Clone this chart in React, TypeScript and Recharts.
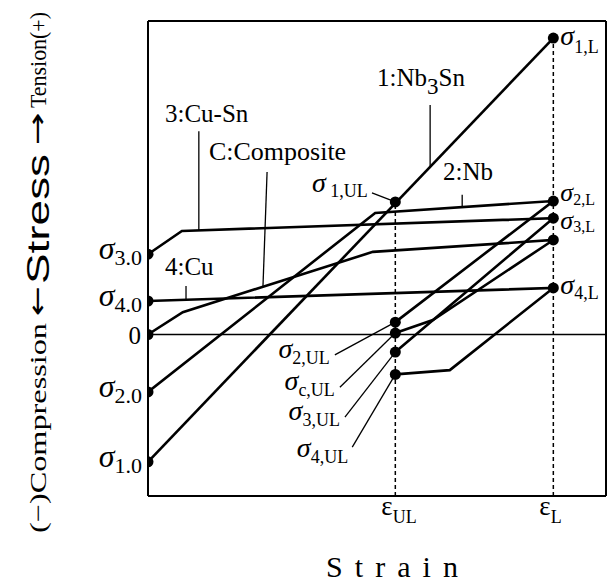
import React from "react";
import {
  ComposedChart,
  Line,
  Scatter,
  XAxis,
  YAxis,
  ReferenceLine,
  ReferenceDot,
} from "recharts";

type Pt = { x: number; y: number };

const FONT = '"Liberation Serif", "Times New Roman", serif';
const SANS = '"Liberation Sans", Arial, sans-serif';
const ARROW_FONT = '"DejaVu Sans", sans-serif';

// axes in arbitrary units (schematic)
const X_DOMAIN: [number, number] = [0, 100];
const Y_DOMAIN: [number, number] = [-34, 66];

const EPS_UL = 54;
const EPS_L = 88.5;

// loading then unloading path of each component
const nb3snPath: Pt[] = [
  { x: 0, y: -26.8 },
  { x: EPS_L, y: 62.4 },
];
const nbPath: Pt[] = [
  { x: 0, y: -12.1 },
  { x: 49.6, y: 25.6 },
  { x: EPS_L, y: 28.1 },
  { x: EPS_UL, y: 2.6 },
];
const compositePath: Pt[] = [
  { x: 0, y: 0 },
  { x: 7.6, y: 4.7 },
  { x: 49.1, y: 17.4 },
  { x: EPS_L, y: 19.9 },
  { x: 62.2, y: 3.05 },
  { x: EPS_UL, y: 0.3 },
];
const cuSnPath: Pt[] = [
  { x: 0, y: 16.9 },
  { x: 7.4, y: 21.8 },
  { x: EPS_L, y: 24.5 },
  { x: EPS_UL, y: -3.7 },
];
const cuPath: Pt[] = [
  { x: 0, y: 7.05 },
  { x: EPS_L, y: 9.8 },
  { x: 65.9, y: -7.5 },
  { x: EPS_UL, y: -8.4 },
];

// residual stresses at zero strain: σ1.0, σ2.0, 0, σ4.0, σ3.0
const yTickValues = [-26.8, -12.1, 0, 7.05, 16.9];
const yTickLabels = [
  ["σ", "1.0"],
  ["σ", "2.0"],
  ["0", ""],
  ["σ", "4.0"],
  ["σ", "3.0"],
];

const xTickValues = [EPS_UL, EPS_L];
const xTickLabels = [
  ["ε", "UL"],
  ["ε", "L"],
];

// stresses at εL and εUL (1, 2, C, 3, 4)
const loadedStress = [62.4, 28.1, 19.9, 24.5, 9.8];
const unloadedStress = [27.9, 2.6, 0.3, -3.7, -8.4];

const markers: Pt[] = [
  ...yTickValues.map((y) => ({ x: 0, y })),
  ...loadedStress.map((y) => ({ x: EPS_L, y })),
  ...unloadedStress.map((y) => ({ x: EPS_UL, y })),
];

const lineStyle = { stroke: "#000", strokeWidth: 2.6, dot: false as const };

function SigmaText(props: {
  x: number;
  y: number;
  base: string;
  sub?: string;
  anchor?: "start" | "end" | "middle";
  italic?: boolean;
  size?: number;
  subSize?: number;
  subDy?: number;
}) {
  const {
    x,
    y,
    base,
    sub,
    anchor = "start",
    italic = true,
    size = 28,
    subSize = 19,
    subDy = 7,
  } = props;
  return (
    <text x={x} y={y} textAnchor={anchor} fontFamily={FONT} fill="#000">
      <tspan fontFamily={FONT} fontSize={size} fontStyle={italic ? "italic" : "normal"}>
        {base}
      </tspan>
      {sub ? (
        <tspan fontFamily={FONT} fontSize={subSize} dy={subDy}>
          {sub}
        </tspan>
      ) : null}
    </text>
  );
}

// invisible reference dot used only to place text in data coordinates
function anchorAt(
  key: string,
  x: number,
  y: number,
  draw: (cx: number, cy: number) => React.ReactNode
) {
  return (
    <ReferenceDot
      key={key}
      x={x}
      y={y}
      r={0}
      fill="none"
      stroke="none"
      ifOverflow="visible"
      label={{
        content: (p: any) => {
          const vb = p.viewBox || {};
          const cx = (vb.x ?? 0) + (vb.width ?? 0) / 2;
          const cy = (vb.y ?? 0) + (vb.height ?? 0) / 2;
          return <g>{draw(cx, cy)}</g>;
        },
      }}
    />
  );
}

function leader(key: string, a: Pt, b: Pt) {
  return (
    <ReferenceLine
      key={key}
      segment={[a, b]}
      stroke="#000"
      strokeWidth={1.3}
      ifOverflow="visible"
    />
  );
}

const renderYTick = (p: any) => {
  const i = yTickValues.indexOf(p.payload.value);
  const [base, sub] = yTickLabels[i] ?? ["", ""];
  if (base === "0") {
    return (
      <text x={p.x - 7} y={p.y + 9} textAnchor="end" fontFamily={FONT} fontSize={25}>
        0
      </text>
    );
  }
  return (
    <SigmaText
      x={p.x - 6}
      y={p.y + 5}
      base={base}
      sub={sub}
      anchor="end"
      size={32}
      subSize={22}
      subDy={6}
    />
  );
};

const renderXTick = (p: any) => {
  const i = xTickValues.indexOf(p.payload.value);
  const [base, sub] = xTickLabels[i] ?? ["", ""];
  return (
    <SigmaText
      x={p.x - 14}
      y={p.y + 19}
      base={base}
      sub={sub}
      italic={false}
      size={27}
      subSize={18}
      subDy={8}
    />
  );
};

const yLabel = () => (
  <g fill="#000">
    <text transform="translate(46,533) rotate(-90)" fontFamily={FONT} fontSize={24} textLength={210} lengthAdjust="spacingAndGlyphs">
      (−)Compression
    </text>
    <text transform="translate(46,316) rotate(-90)" fontFamily={ARROW_FONT} fontSize={26} textLength={30} lengthAdjust="spacingAndGlyphs">
      ←
    </text>
    <text transform="translate(49,284) rotate(-90)" fontFamily={SANS} fontSize={32} textLength={130} lengthAdjust="spacingAndGlyphs">
      Stress
    </text>
    <text transform="translate(46,145) rotate(-90)" fontFamily={ARROW_FONT} fontSize={26} textLength={33} lengthAdjust="spacingAndGlyphs">
      →
    </text>
    <text transform="translate(46,108) rotate(-90)" fontFamily={FONT} fontSize={24} textLength={96} lengthAdjust="spacingAndGlyphs">
      Tension(+)
    </text>
  </g>
);

const xLabel = () => (
  <text x={392} y={577} textAnchor="middle" fontFamily={FONT} fontSize={30} textLength={132} lengthAdjust="spacing">
    Strain
  </text>
);

export default function App() {
  return (
    <div style={{ position: "absolute", left: 0, top: 0, width: 612, height: 582, background: "#fff" }}>
      <ComposedChart
        width={612}
        height={582}
        margin={{ top: 21, right: 6, bottom: 0, left: 0 }}
      >
        <XAxis
          type="number"
          dataKey="x"
          domain={X_DOMAIN}
          allowDataOverflow
          ticks={xTickValues}
          interval={0}
          tick={renderXTick}
          tickLine={false}
          tickSize={0}
          tickMargin={0}
          height={86}
          axisLine={{ stroke: "#000", strokeWidth: 2 }}
          label={{ content: xLabel }}
        />
        <YAxis
          type="number"
          dataKey="y"
          domain={Y_DOMAIN}
          allowDataOverflow
          ticks={yTickValues}
          interval={0}
          tick={renderYTick}
          tickLine={false}
          tickSize={0}
          tickMargin={0}
          width={148}
          axisLine={{ stroke: "#000", strokeWidth: 2 }}
          label={{ content: yLabel }}
        />

        {/* frame top / right and the zero-stress line */}
        <ReferenceLine y={Y_DOMAIN[1]} stroke="#000" strokeWidth={2} />
        <ReferenceLine x={X_DOMAIN[1]} stroke="#000" strokeWidth={2} />
        <ReferenceLine y={0} stroke="#000" strokeWidth={1.5} />

        {/* strain markers */}
        <ReferenceLine
          segment={[{ x: EPS_UL, y: Y_DOMAIN[0] }, { x: EPS_UL, y: unloadedStress[0] }]}
          stroke="#000"
          strokeWidth={1.5}
          strokeDasharray="4 3"
        />
        <ReferenceLine
          segment={[{ x: EPS_L, y: Y_DOMAIN[0] }, { x: EPS_L, y: loadedStress[0] }]}
          stroke="#000"
          strokeWidth={1.5}
          strokeDasharray="4 3"
        />

        <Line data={nb3snPath} dataKey="y" name="1:Nb3Sn" type="linear" {...lineStyle} isAnimationActive={false} />
        <Line data={nbPath} dataKey="y" name="2:Nb" type="linear" {...lineStyle} isAnimationActive={false} />
        <Line data={compositePath} dataKey="y" name="C:Composite" type="linear" {...lineStyle} isAnimationActive={false} />
        <Line data={cuSnPath} dataKey="y" name="3:Cu-Sn" type="linear" {...lineStyle} isAnimationActive={false} />
        <Line data={cuPath} dataKey="y" name="4:Cu" type="linear" {...lineStyle} isAnimationActive={false} />

        <Scatter
          data={markers}
          dataKey="y"
          isAnimationActive={false}
          shape={(p: any) => <circle cx={p.cx} cy={p.cy} r={5.5} fill="#000" />}
        />

        {/* component labels and leaders */}
        {leader("l-nb3sn", { x: 61.6, y: 48.3 }, { x: 61.6, y: 35.3 })}
        {leader("l-nb", { x: 68.6, y: 29.4 }, { x: 68.6, y: 26.8 })}
        {leader("l-cusn", { x: 11.1, y: 42.8 }, { x: 11.1, y: 21.9 })}
        {leader("l-comp", { x: 26.0, y: 34.2 }, { x: 25.1, y: 10.05 })}
        {leader("l-cu", { x: 8.3, y: 10.2 }, { x: 8.3, y: 7.3 })}

        {anchorAt("t-nb3sn", 50.0, 52.3, (cx, cy) => (
          <text x={cx} y={cy} fontFamily={FONT} fontSize={25}>
            1:Nb<tspan dy={8} fontSize={23}>3</tspan>
            <tspan dy={-8}>Sn</tspan>
          </text>
        ))}
        {anchorAt("t-nb", 64.4, 32.5, (cx, cy) => (
          <text x={cx} y={cy} fontFamily={FONT} fontSize={25}>2:Nb</text>
        ))}
        {anchorAt("t-cusn", 3.7, 44.7, (cx, cy) => (
          <text x={cx} y={cy} fontFamily={FONT} fontSize={25}>3:Cu-Sn</text>
        ))}
        {anchorAt("t-comp", 13.3, 36.7, (cx, cy) => (
          <text x={cx} y={cy} fontFamily={FONT} fontSize={26}>C:Composite</text>
        ))}
        {anchorAt("t-cu", 3.7, 12.5, (cx, cy) => (
          <text x={cx} y={cy} fontFamily={FONT} fontSize={25}>4:Cu</text>
        ))}

        {/* unloaded stress labels with leaders */}
        {leader("l-s1ul", { x: 48.9, y: 29.8 }, { x: EPS_UL, y: unloadedStress[0] })}
        {leader("l-s2ul", { x: 40.8, y: -4.3 }, { x: EPS_UL, y: unloadedStress[1] })}
        {leader("l-scul", { x: 41.9, y: -11.1 }, { x: EPS_UL, y: unloadedStress[2] })}
        {leader("l-s3ul", { x: 43.0, y: -17.4 }, { x: EPS_UL, y: unloadedStress[3] })}
        {leader("l-s4ul", { x: 44.6, y: -23.7 }, { x: EPS_UL, y: unloadedStress[4] })}

        {anchorAt("s1ul", 48.0, 30.0, (cx, cy) => (
          <SigmaText x={cx} y={cy} base="σ" sub=" 1,UL" anchor="end" subSize={18} subDy={5} />
        ))}
        {anchorAt("s2ul", 39.7, -4.9, (cx, cy) => (
          <SigmaText x={cx} y={cy} base="σ" sub="2,UL" anchor="end" subSize={18} subDy={6} />
        ))}
        {anchorAt("scul", 40.8, -11.7, (cx, cy) => (
          <SigmaText x={cx} y={cy} base="σ" sub="c,UL" anchor="end" subSize={18} subDy={6} />
        ))}
        {anchorAt("s3ul", 41.9, -18.0, (cx, cy) => (
          <SigmaText x={cx} y={cy} base="σ" sub="3,UL" anchor="end" subSize={18} subDy={6} />
        ))}
        {anchorAt("s4ul", 43.7, -25.8, (cx, cy) => (
          <SigmaText x={cx} y={cy} base="σ" sub="4,UL" anchor="end" subSize={18} subDy={6} />
        ))}

        {/* loaded stress labels at εL */}
        {anchorAt("s1l", EPS_L, loadedStress[0], (cx, cy) => (
          <SigmaText x={cx + 7} y={cy + 7} base="σ" sub="1,L" subSize={18} subDy={8} />
        ))}
        {anchorAt("s2l", EPS_L, loadedStress[1], (cx, cy) => (
          <SigmaText x={cx + 7} y={cy} base="σ" sub="2,L" size={26} subSize={16} subDy={4} />
        ))}
        {anchorAt("s3l", EPS_L, loadedStress[3], (cx, cy) => (
          <SigmaText x={cx + 7} y={cy + 11} base="σ" sub="3,L" size={26} subSize={16} subDy={3} />
        ))}
        {anchorAt("s4l", EPS_L, loadedStress[4], (cx, cy) => (
          <SigmaText x={cx + 7} y={cy + 6} base="σ" sub="4,L" subSize={18} subDy={5} />
        ))}
      </ComposedChart>
    </div>
  );
}
